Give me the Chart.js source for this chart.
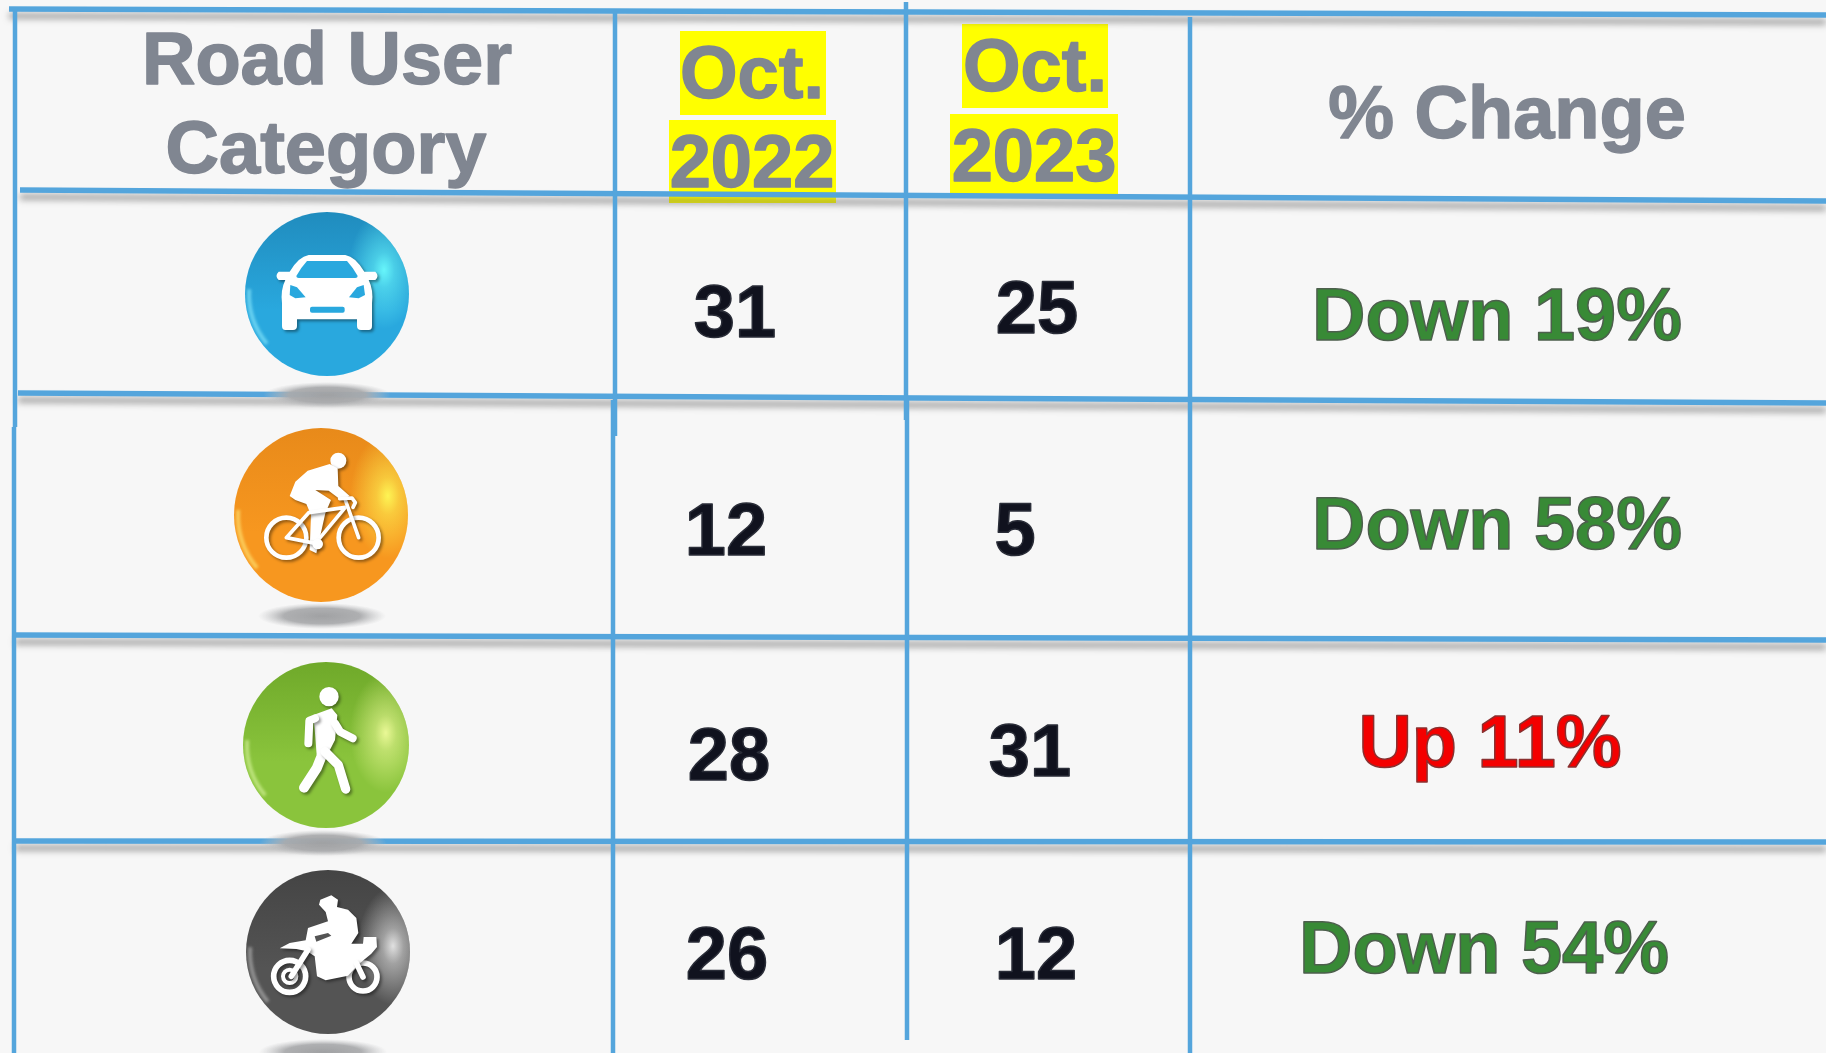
<!DOCTYPE html>
<html lang="en">
<head>
<meta charset="utf-8">
<title>Road User Category</title>
<script src="https://cdn.jsdelivr.net/npm/chart.js@4"></script>
<style>
  html, body { margin: 0; padding: 0; background: #f7f7f7; }
  canvas { display: block; }
</style>
</head>
<body>
<canvas id="table-chart" width="1826" height="1053"></canvas>
<script>
// table content
const categories = ['Car', 'Bicycle', 'Pedestrian', 'Motorcycle'];
const oct2022 = [31, 12, 28, 26];
const oct2023 = [25, 5, 31, 12];
const changeDirection = ['Down', 'Down', 'Up', 'Down'];
const changePercent = [19, 58, 11, 54];
const headerRoad = ['Road User', 'Category'];
const header2022 = ['Oct.', '2022'];
const header2023 = ['Oct.', '2023'];
const headerChange = ['% Change'];

// layout, in the axis units of the sheet (the photo is slightly crooked, so every cell has its own spot)
const sheetWidth = 1826;
const sheetHeight = 1053;
const headerSpots = {
    road: [[327, 84], [326, 173]],
    y2022: [[752, 98], [752, 187]],
    y2023: [[1035, 91], [1034, 181]],
    change: [[1507, 138]],
};
const spots2022 = [[735, 337], [726, 555], [729, 780], [727, 979]];
const spots2023 = [[1037, 333], [1015, 555], [1030, 776], [1036, 979]];
const spotsChange = [[1497, 340], [1497, 549], [1490, 767], [1484, 973]];
const iconSpots = [[327, 294], [321, 515], [326, 745], [328, 952]];
const iconRadius = [82, 87, 83, 82];
const shadowSpots = [[327, 395], [322, 616], [323, 843], [323, 1052]];
const highlights = [
    { x1: 680, y1: 31, x2: 826, y2: 115 },
    { x1: 669, y1: 120, x2: 836, y2: 203 },
    { x1: 962, y1: 24, x2: 1108, y2: 108 },
    { x1: 950, y1: 114, x2: 1118, y2: 194 },
];
const horizontalRules = [
    [[9, 9], [1826, 15]],
    [[20, 190], [1826, 201]],
    [[18, 393], [1826, 403]],
    [[15, 635], [1826, 640]],
    [[15, 841], [1826, 842]],
];
const verticalRules = [
    [[15, 9], [15, 427]],
    [[14, 427], [14, 1053]],
    [[615, 13], [615, 436]],
    [[613, 400], [613, 1053]],
    [[906, 2], [906, 420]],
    [[907, 400], [907, 1040]],
    [[1190, 17], [1190, 1053]],
];

const RULE_COLOR = '#54a5dc';
const HEADER_COLOR = '#808691';
const VALUE_COLOR = '#10121e';
const DOWN_COLOR = '#388a36';
const UP_COLOR = '#f40000';
const FONT = 'bold 74px "Liberation Sans", Arial, sans-serif';

function roundRect(ctx, x, y, w, h, r) {
    ctx.beginPath();
    ctx.roundRect(x, y, w, h, r);
    ctx.fill();
}

function polyline(ctx, pts, width) {
    ctx.lineWidth = width;
    ctx.beginPath();
    pts.forEach((p, i) => (i ? ctx.lineTo(p[0], p[1]) : ctx.moveTo(p[0], p[1])));
    ctx.stroke();
}

function polygon(ctx, pts) {
    ctx.beginPath();
    pts.forEach((p, i) => (i ? ctx.lineTo(p[0], p[1]) : ctx.moveTo(p[0], p[1])));
    ctx.closePath();
    ctx.fill();
}

function ring(ctx, x, y, r, width) {
    ctx.lineWidth = width;
    ctx.beginPath();
    ctx.arc(x, y, r, 0, Math.PI * 2);
    ctx.stroke();
}

// glyphs are drawn in a 3x space around the ball centre
function carGlyph(ctx, base) {
    ctx.save();
    ctx.translate(-380, -312);
    ctx.beginPath();
    ctx.moveTo(325, 195);
    ctx.lineTo(435, 195);
    ctx.quadraticCurveTo(465, 200, 492, 245);
    ctx.lineTo(525, 245);
    ctx.quadraticCurveTo(538, 258, 525, 270);
    ctx.lineTo(505, 270);
    ctx.quadraticCurveTo(520, 300, 515, 340);
    ctx.lineTo(515, 408);
    ctx.quadraticCurveTo(515, 420, 505, 420);
    ctx.lineTo(482, 420);
    ctx.quadraticCurveTo(470, 420, 470, 408);
    ctx.lineTo(470, 388);
    ctx.lineTo(290, 388);
    ctx.lineTo(290, 408);
    ctx.quadraticCurveTo(290, 420, 278, 420);
    ctx.lineTo(255, 420);
    ctx.quadraticCurveTo(245, 420, 245, 408);
    ctx.lineTo(245, 340);
    ctx.quadraticCurveTo(240, 300, 255, 270);
    ctx.lineTo(235, 270);
    ctx.quadraticCurveTo(222, 258, 235, 245);
    ctx.lineTo(268, 245);
    ctx.quadraticCurveTo(295, 200, 325, 195);
    ctx.closePath();
    ctx.fill();
    ctx.shadowColor = 'transparent';
    ctx.fillStyle = base;
    ctx.beginPath();
    ctx.moveTo(320, 213);
    ctx.lineTo(440, 213);
    ctx.quadraticCurveTo(460, 235, 472, 258);
    ctx.quadraticCurveTo(472, 264, 465, 264);
    ctx.lineTo(295, 264);
    ctx.quadraticCurveTo(288, 264, 288, 258);
    ctx.quadraticCurveTo(300, 235, 320, 213);
    ctx.closePath();
    ctx.fill();
    polygon(ctx, [[270, 285], [290, 292], [316, 322], [285, 325], [268, 315]]);
    polygon(ctx, [[490, 285], [470, 292], [446, 322], [475, 325], [494, 315]]);
    roundRect(ctx, 329, 350, 104, 18, 6);
    ctx.restore();
}

function bikeGlyph(ctx) {
    ctx.save();
    ctx.translate(-362, -345);
    ring(ctx, 258, 413, 60, 14);
    ring(ctx, 475, 413, 60, 14);
    ctx.beginPath();
    ctx.arc(414, 182, 24, 0, Math.PI * 2);
    ctx.fill();
    polygon(ctx, [[268, 288], [285, 245], [322, 212], [388, 192], [412, 205], [414, 258], [448, 288], [422, 300], [385, 272], [345, 270], [392, 300], [375, 340], [348, 460], [328, 450], [332, 345], [318, 312], [285, 300]]);
    polyline(ctx, [[258, 413], [325, 338], [435, 322], [345, 430], [258, 413]], 11);
    polyline(ctx, [[435, 300], [475, 413]], 11);
    polyline(ctx, [[418, 296], [455, 294], [465, 308], [458, 322]], 11);
    ctx.beginPath();
    ctx.arc(352, 432, 16, 0, Math.PI * 2);
    ctx.fill();
    ctx.restore();
}

function walkGlyph(ctx) {
    ctx.save();
    ctx.translate(-378, -315);
    ctx.beginPath();
    ctx.arc(387, 170, 29, 0, Math.PI * 2);
    ctx.fill();
    polygon(ctx, [[340, 225], [395, 205], [412, 225], [405, 300], [382, 345], [350, 345], [345, 280]]);
    polyline(ctx, [[345, 235], [328, 242], [325, 310]], 24);
    polyline(ctx, [[405, 250], [420, 275], [458, 295]], 24);
    polyline(ctx, [[368, 340], [350, 385], [312, 443]], 30);
    polyline(ctx, [[375, 335], [415, 375], [437, 447]], 28);
    ctx.restore();
}

function motoGlyph(ctx, base) {
    ctx.save();
    ctx.translate(-385, -307);
    ring(ctx, 270, 380, 48, 17);
    ring(ctx, 270, 380, 20, 12);
    ring(ctx, 490, 382, 42, 17);
    polygon(ctx, [[240, 296], [270, 280], [318, 272], [325, 235], [385, 215], [378, 187], [358, 165], [362, 150], [395, 137], [415, 150], [412, 172], [445, 180], [470, 205], [476, 250], [455, 282], [490, 282], [492, 262], [530, 262], [532, 292], [515, 312], [475, 345], [445, 378], [378, 392], [352, 380], [345, 320], [322, 305], [290, 298]]);
    polyline(ctx, [[325, 300], [275, 380]], 17);
    polyline(ctx, [[470, 340], [490, 382]], 17);
    ctx.shadowColor = 'transparent';
    ctx.fillStyle = base;
    polygon(ctx, [[345, 260], [385, 250], [395, 258], [350, 276]]);
    ctx.restore();
}

const iconStyles = [
    { top: '#208cbe', bottom: '#29a8de', spot: 'rgba(110,255,255,', hx: 57, hy: -24, rim: 'rgba(150,240,255,0.6)', glyph: carGlyph },
    { top: '#e88a1a', bottom: '#f7971f', spot: 'rgba(255,255,90,', hx: 63, hy: -18, rim: 'rgba(255,240,130,0.6)', glyph: bikeGlyph },
    { top: '#6fa92a', bottom: '#8ac43c', spot: 'rgba(245,255,160,', hx: 59, hy: -12, rim: 'rgba(225,250,170,0.6)', glyph: walkGlyph },
    { top: '#444444', bottom: '#545454', spot: 'rgba(240,240,240,', hx: 65, hy: -6, rim: 'rgba(210,210,210,0.5)', glyph: motoGlyph },
];

function makeIcon(style, r) {
    const pad = 4;
    const size = Math.ceil((r + pad) * 2);
    const c = document.createElement('canvas');
    c.width = c.height = size;
    const ctx = c.getContext('2d');
    const m = size / 2;
    ctx.translate(m, m);

    ctx.save();
    ctx.beginPath();
    ctx.arc(0, 0, r, 0, Math.PI * 2);
    ctx.clip();
    const grad = ctx.createLinearGradient(0, -r, 0, r);
    grad.addColorStop(0, style.top);
    grad.addColorStop(0.6, style.bottom);
    grad.addColorStop(1, style.bottom);
    ctx.fillStyle = grad;
    ctx.fillRect(-r, -r, r * 2, r * 2);

    const sx = style.hx * r / 82;
    const sy = style.hy * r / 82;
    ctx.save();
    ctx.translate(sx, sy);
    ctx.scale(0.6, 1);
    const hi = ctx.createRadialGradient(0, 0, 0, 0, 0, r * 0.72);
    hi.addColorStop(0, style.spot + '0.9)');
    hi.addColorStop(0.3, style.spot + '0.5)');
    hi.addColorStop(1, style.spot + '0)');
    ctx.fillStyle = hi;
    ctx.fillRect(-r * 2, -r * 2, r * 4, r * 4);
    ctx.restore();

    // soft bright crescent low on the left edge
    ctx.filter = 'blur(1.5px)';
    ctx.strokeStyle = style.rim;
    ctx.lineWidth = 4;
    ctx.beginPath();
    ctx.arc(0, 0, r - 4, Math.PI * 0.78, Math.PI * 1.02);
    ctx.stroke();
    ctx.filter = 'none';
    ctx.restore();

    ctx.scale(1 / 3, 1 / 3);
    ctx.fillStyle = '#fff';
    ctx.strokeStyle = '#fff';
    ctx.lineCap = 'round';
    ctx.lineJoin = 'round';
    ctx.shadowColor = 'rgba(0,0,0,0.4)';
    ctx.shadowBlur = 3;
    ctx.shadowOffsetX = 2;
    ctx.shadowOffsetY = 2;
    style.glyph(ctx, style.bottom);
    return c;
}

function makeGroundShadow() {
    const c = document.createElement('canvas');
    c.width = 132;
    c.height = 30;
    const ctx = c.getContext('2d');
    ctx.translate(66, 15);
    ctx.scale(1, 13 / 64);
    const g = ctx.createRadialGradient(0, 0, 0, 0, 0, 64);
    g.addColorStop(0, 'rgba(160,161,163,1)');
    g.addColorStop(0.6, 'rgba(170,171,173,0.95)');
    g.addColorStop(1, 'rgba(195,196,198,0)');
    ctx.fillStyle = g;
    ctx.beginPath();
    ctx.arc(0, 0, 64, 0, Math.PI * 2);
    ctx.fill();
    return c;
}

const toPoint = (s) => ({ x: s[0], y: s[1] });
const groundShadow = makeGroundShadow();

function ruleDataset(rule, width, shadow) {
    return {
        label: 'rule',
        data: rule.map(toPoint),
        showLine: true,
        borderColor: RULE_COLOR,
        borderWidth: width,
        pointRadius: 0,
        clip: false,
        ruleShadow: shadow,
    };
}

function textDataset(texts, spots, color, stroke) {
    return {
        label: 'text',
        data: spots.map(toPoint),
        pointRadius: 0,
        clip: false,
        cellTexts: texts,
        cellColor: color,
        cellStroke: stroke,
    };
}

const datasets = [
    // first dataset ends up on top
    {
        label: 'icons',
        data: iconSpots.map(toPoint),
        pointStyle: categories.map((c, i) => makeIcon(iconStyles[i], iconRadius[i])),
        clip: false,
    },
    {
        label: 'ground shadows',
        data: shadowSpots.map(toPoint),
        pointStyle: categories.map(() => groundShadow),
        clip: false,
    },
    ...verticalRules.map((r) => ruleDataset(r, 4.5, false)),
    ...horizontalRules.map((r) => ruleDataset(r, 5.5, true)),
    textDataset(headerRoad, headerSpots.road, HEADER_COLOR, HEADER_COLOR),
    textDataset(header2022, headerSpots.y2022, HEADER_COLOR, HEADER_COLOR),
    textDataset(header2023, headerSpots.y2023, HEADER_COLOR, HEADER_COLOR),
    textDataset(headerChange, headerSpots.change, HEADER_COLOR, HEADER_COLOR),
    textDataset(oct2022.map(String), spots2022, VALUE_COLOR, '#2a2d38'),
    textDataset(oct2023.map(String), spots2023, VALUE_COLOR, '#2a2d38'),
];

changeDirection.forEach((dir, i) => {
    const color = dir === 'Up' ? UP_COLOR : DOWN_COLOR;
    const stroke = dir === 'Up' ? '#8a3030' : '#4d5f4d';
    datasets.push(textDataset([`${dir} ${changePercent[i]}%`], [spotsChange[i]], color, stroke));
});

const tablePlugin = {
    id: 'tablePlugin',
    beforeDatasetsDraw(chart) {
        const { ctx, scales: { x, y } } = chart;
        ctx.save();
        ctx.fillStyle = '#ffff00';
        highlights.forEach((h) => {
            const left = x.getPixelForValue(h.x1);
            const top = y.getPixelForValue(h.y1);
            ctx.fillRect(left, top, x.getPixelForValue(h.x2) - left, y.getPixelForValue(h.y2) - top);
        });
        ctx.restore();
    },
    beforeDatasetDraw(chart, args) {
        const { ctx } = chart;
        ctx.save();
        if (args.meta.controller.getDataset().ruleShadow) {
            ctx.shadowColor = 'rgba(90,90,90,0.55)';
            ctx.shadowBlur = 6;
            ctx.shadowOffsetY = 7;
        }
    },
    afterDatasetDraw(chart) {
        chart.ctx.restore();
    },
    afterDatasetsDraw(chart) {
        const { ctx } = chart;
        ctx.save();
        ctx.font = FONT;
        ctx.textAlign = 'center';
        ctx.textBaseline = 'alphabetic';
        ctx.lineJoin = 'round';
        chart.data.datasets.forEach((ds, di) => {
            if (!ds.cellTexts) return;
            chart.getDatasetMeta(di).data.forEach((pt, i) => {
                ctx.fillStyle = ds.cellColor;
                ctx.fillText(ds.cellTexts[i], pt.x, pt.y);
                if (ds.cellStroke) {
                    ctx.strokeStyle = ds.cellStroke;
                    ctx.lineWidth = 1.5;
                    ctx.strokeText(ds.cellTexts[i], pt.x, pt.y);
                }
            });
        });
        ctx.restore();
    },
};

new Chart(document.getElementById('table-chart'), {
    type: 'scatter',
    data: { datasets },
    plugins: [tablePlugin],
    options: {
        responsive: false,
        animation: false,
        devicePixelRatio: 1,
        layout: { padding: 0, autoPadding: false },
        plugins: { legend: { display: false }, tooltip: { enabled: false } },
        scales: {
            x: { type: 'linear', display: false, min: 0, max: sheetWidth },
            y: { type: 'linear', display: false, min: 0, max: sheetHeight, reverse: true },
        },
    },
});
</script>
</body>
</html>
